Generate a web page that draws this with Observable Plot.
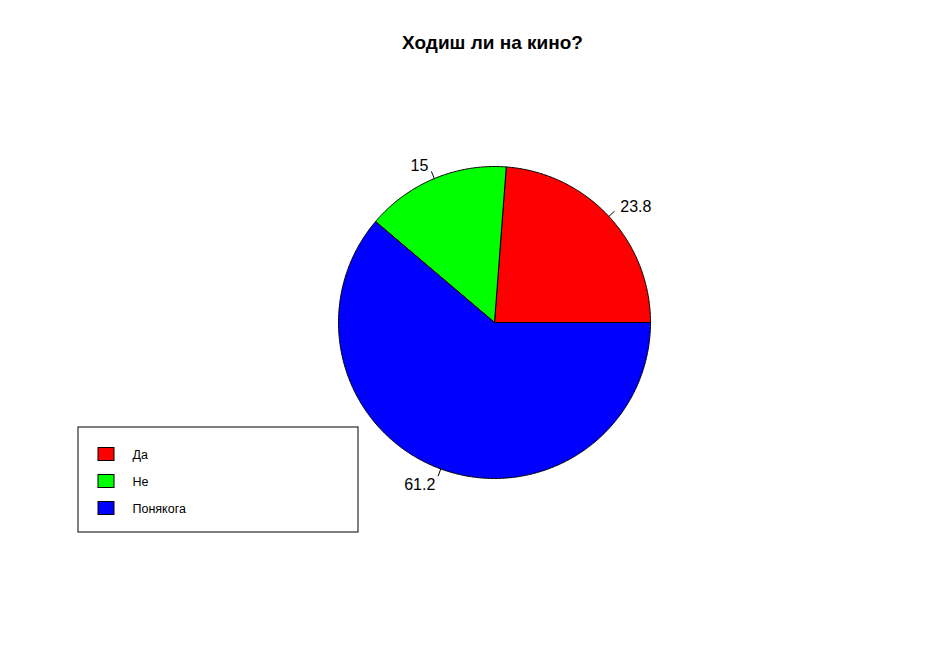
<!DOCTYPE html>
<html>
<head>
<meta charset="utf-8">
<script src="https://cdn.jsdelivr.net/npm/d3@7"></script>
<script src="https://cdn.jsdelivr.net/npm/@observablehq/plot@0.6"></script>
<style>
  html, body { margin: 0; padding: 0; background: #fff; }
  svg { display: block; }
</style>
</head>
<body>
<div id="chart"></div>
<script>
const title = "Ходиш ли на кино?";
const categories = ["Да", "Не", "Понякога"];
const values = [23.8, 15, 61.2];
const colors = ["#ff0000", "#00ff00", "#0000ff"];

// layout
const W = 949, H = 664;
const cx = 494, cy = 322, R = 156;

const total = d3.sum(values);
let acc = 0;
const slices = values.map((v, i) => {
  const a0 = acc / total * 2 * Math.PI;
  acc += v;
  const a1 = acc / total * 2 * Math.PI;
  return {cat: categories[i], value: v, a0, a1, mid: (a0 + a1) / 2};
});

const pts = [];
for (const s of slices) {
  pts.push({cat: s.cat, x: cx, y: cy});
  const n = Math.max(2, Math.ceil((s.a1 - s.a0) / (Math.PI / 360)));
  for (let k = 0; k <= n; k++) {
    const a = s.a0 + (s.a1 - s.a0) * k / n;
    pts.push({cat: s.cat, x: cx + R * Math.cos(a), y: cy - R * Math.sin(a)});
  }
  pts.push({cat: s.cat, x: cx, y: cy});
}

const ticks = slices.map(s => ({
  x1: cx + R * Math.cos(s.mid), y1: cy - R * Math.sin(s.mid),
  x2: cx + 1.05 * R * Math.cos(s.mid), y2: cy - 1.05 * R * Math.sin(s.mid)
}));
const labels = slices.map(s => ({
  text: String(s.value),
  x: cx + 1.1 * R * Math.cos(s.mid), y: cy - 1.1 * R * Math.sin(s.mid),
  anchor: Math.cos(s.mid) > 0 ? "start" : "end"
}));

// legend
const lg = {x1: 78, y1: 427, x2: 358, y2: 532, row0: 454, step: 27};
const legendRows = categories.map((c, i) => ({cat: c, y: lg.row0 + i * lg.step}));

const chart = Plot.plot({
  width: W, height: H,
  margin: 0,
  x: {domain: [0, W], range: [0, W], axis: null},
  y: {domain: [0, H], range: [0, H], axis: null},
  color: {domain: categories, range: colors},
  style: {fontFamily: "'Liberation Sans', Arial, sans-serif", background: "#fff"},
  marks: [
    Plot.line(pts, {x: "x", y: "y", z: "cat", fill: "cat", stroke: "black", strokeWidth: 1, curve: "linear"}),
    Plot.link(ticks, {x1: "x1", y1: "y1", x2: "x2", y2: "y2", stroke: "black", strokeWidth: 1}),
    Plot.text(labels.filter(d => d.anchor === "start"), {x: "x", y: "y", text: "text", textAnchor: "start", fontSize: 16, dy: 1.5, fill: "black"}),
    Plot.text(labels.filter(d => d.anchor === "end"), {x: "x", y: "y", text: "text", textAnchor: "end", fontSize: 16, dy: 1.5, fill: "black"}),
    Plot.text([title], {x: () => 492, y: () => 42, text: d => d, fontSize: 19, fontWeight: "bold", fill: "black"}),
    Plot.rect([lg], {x1: "x1", x2: "x2", y1: "y1", y2: "y2", fill: "none", stroke: "black", strokeWidth: 1}),
    Plot.rect(legendRows, {x1: () => 98, x2: () => 114, y1: d => d.y - 6.5, y2: d => d.y + 6.5, fill: "cat", stroke: "black", strokeWidth: 1}),
    Plot.text(legendRows, {x: () => 132, y: "y", text: "cat", textAnchor: "start", fontSize: 12.5, fill: "black"})
  ]
});
document.getElementById("chart").appendChild(chart);
</script>
</body>
</html>
